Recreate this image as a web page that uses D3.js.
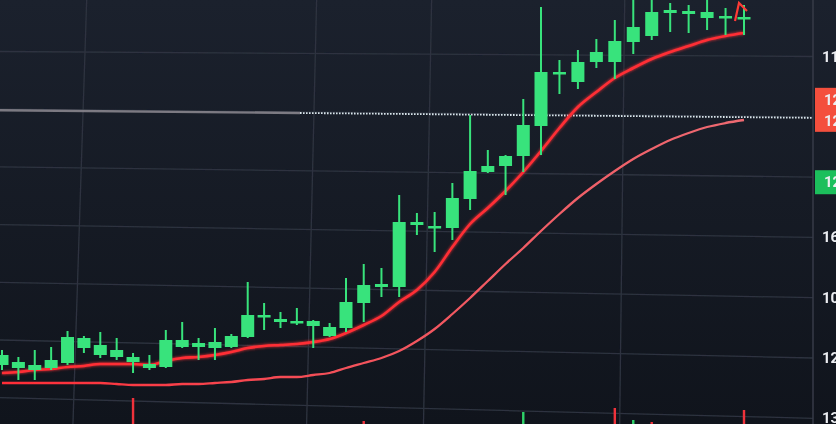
<!DOCTYPE html>
<html>
<head>
  <title>Candles</title>
  <script src="https://d3js.org/d3.v7.min.js"></script>
  <style>
    html, body {
      margin: 0;
      padding: 0;
      width: 100%;
      height: 100%;
      overflow: hidden;
      background: #151a24;
    }
    svg { display: block; }
    .lbl {
      font-family: Roboto, 'DejaVu Sans', sans-serif;
      font-weight: 700;
      font-size: 15px;
      fill: #eceef2;
    }
  </style>
</head>
<body>
  <svg></svg>
  <script>
    var width = 836, height = 424;
    var axisX = 813; // where the price scale starts

    // candles, oldest first
    const opens  = [105.9,105.6,105.4,105.6,106.1,107.6,106.9,106.7,106.2,105.6,105.7,107.7,107.7,107.6,107.7,108.7,110.7,110.2,110.1,109.8,108.8,109.6,112.1,113.7,113.7,119.9,119.6,119.6,122.5,125.2,125.8,126.8,129.8,135.0,134.2,136.2,136.2,138.2,138.8,141.1,141.0,140.6,140.6,140.5];
    const closes = [106.9,106.2,105.9,106.4,108.7,108.6,107.9,107.4,106.7,106.0,108.4,108.4,108.1,108.2,108.8,110.9,110.9,110.5,110.3,110.3,109.7,112.2,113.9,114.0,120.2,120.2,119.8,122.6,125.3,125.8,126.8,129.9,135.2,135.2,136.2,137.2,138.3,139.7,141.2,141.4,141.3,141.2,140.8,140.7];
    const highs  = [107.4,106.7,107.4,107.7,109.3,108.8,109.2,108.6,107.1,106.9,109.4,110.2,108.6,109.6,109.0,114.2,112.1,111.2,111.6,110.4,110.1,114.6,116.0,115.6,122.9,121.1,121.2,124.1,130.9,127.4,126.9,132.5,141.7,136.4,137.4,138.5,140.4,142.9,143.4,142.1,141.9,142.4,141.6,141.9];
    const lows   = [105.4,104.4,104.4,105.4,105.9,107.1,106.6,106.4,105.1,105.4,105.6,107.6,106.4,106.4,107.6,108.6,109.4,109.6,109.9,107.6,108.7,109.2,110.2,112.7,112.7,118.9,117.2,118.4,121.4,125.1,122.9,125.2,126.9,133.0,133.5,135.6,134.5,137.0,138.4,139.2,139.1,139.4,138.9,138.9];

    // moving averages
    const emaFast = [105.1,105.2,105.4,105.5,105.7,105.8,106.0,106.0,106.0,105.9,106.3,106.6,106.7,106.9,107.2,107.6,107.8,107.9,108.0,108.2,108.5,109.1,109.9,110.8,112.2,113.4,115.2,117.7,120.0,121.6,123.3,125.2,127.3,129.6,131.7,133.2,134.6,135.6,136.5,137.2,137.8,138.4,138.8,139.1];
    const emaSlow = [104.1,104.1,104.1,104.1,104.1,104.1,104.1,104.0,103.9,103.9,103.9,104.0,104.0,104.1,104.2,104.4,104.5,104.7,104.7,104.9,105.1,105.6,106.1,106.6,107.3,108.3,109.5,111.0,112.6,114.3,116.0,117.6,119.3,121.0,122.6,124.0,125.3,126.5,127.5,128.4,129.1,129.7,130.1,130.4];

    // volume (mostly below the visible area)
    const volumes = [10,6,8,12,14,9,7,11,42,8,13,10,6,9,12,15,8,7,6,11,9,14,19,10,15,8,9,12,13,7,9,28,15,10,9,8,32,20,18,9,7,8,10,30];
    const redVolume = [8,22,36,38,43];

    // price scale (labels 2 and 3 sit under the price tags)
    const gridPrices = [137.0,131.1,125.2,119.3,113.4,107.5,101.6];
    const tickLabels = ["11.760","","","16.020","10.870","12.340","13.110"];
    const lastPrice = 131.0;
    const lastLabels = ["12.905","12.880"];
    const bidPrice = 124.7;
    const bidLabel = "12.610";
    // time grid, in candle units
    const gridTimes = [4.75, 18.9, 25.6, 36.4];

    var svg = d3.select("svg").attr("width", width).attr("height", height);

    var defs = svg.append("defs");
    var bg = defs.append("linearGradient").attr("id", "bg").attr("x1", 0).attr("x2", 0).attr("y1", 0).attr("y2", 1);
    bg.append("stop").attr("offset", "0%").attr("stop-color", "#1b212d");
    bg.append("stop").attr("offset", "100%").attr("stop-color", "#10141c");

    // slow line goes from deep red on the left to pinkish on the right
    var slowGrad = defs.append("linearGradient").attr("id", "slowGrad")
      .attr("gradientUnits", "userSpaceOnUse").attr("x1", 0).attr("x2", 750).attr("y1", 0).attr("y2", 0);
    slowGrad.append("stop").attr("offset", "0%").attr("stop-color", "#ff2c36");
    slowGrad.append("stop").attr("offset", "45%").attr("stop-color", "#f4515a");
    slowGrad.append("stop").attr("offset", "100%").attr("stop-color", "#ee6a72");

    var soft = defs.append("filter").attr("id", "soft").attr("x", "-5%").attr("y", "-5%").attr("width", "110%").attr("height", "110%");
    soft.append("feGaussianBlur").attr("stdDeviation", 0.6);

    var glow = defs.append("filter").attr("id", "glow").attr("x", "-10%").attr("y", "-10%").attr("width", "120%").attr("height", "120%");
    glow.append("feGaussianBlur").attr("in", "SourceGraphic").attr("stdDeviation", 1.6).attr("result", "b");
    var merge = glow.append("feMerge");
    merge.append("feMergeNode").attr("in", "b");
    merge.append("feMergeNode").attr("in", "SourceGraphic");

    svg.append("rect").attr("width", width).attr("height", height).attr("fill", "url(#bg)");

    // the photo is a bit skewed, candle spacing grows to the right
    const x = d3.scaleLinear().domain([0, 21, 32, 43]).range([2, 346, 541, 744]);
    const y = d3.scaleLinear().domain([100, 142.4]).range([424, 0]);
    const yVol = d3.scaleLinear().domain([0, 100]).range([440, 340]);

    function tiltY(yy, xx) {
      var d = 2.5 + (yy - 54) * 0.022;
      return yy + d * ((xx - 406) / 406);
    }
    function tiltX(xx) { return 7.5 - xx * 0.008; }

    var chart = svg.append("g").attr("filter", "url(#soft)");

    // grid
    var grid = chart.append("g").attr("stroke", "#2d333f").attr("stroke-width", 1.3);
    grid.selectAll(".h").data(gridPrices).join("line")
      .attr("x1", 0).attr("x2", axisX)
      .attr("y1", d => tiltY(y(d), 0))
      .attr("y2", d => tiltY(y(d), axisX));
    grid.selectAll(".v").data(gridTimes).join("line")
      .attr("x1", d => x(d) + tiltX(x(d))).attr("y1", 0)
      .attr("x2", d => x(d) - tiltX(x(d))).attr("y2", height);

    // current price line
    var yp = y(lastPrice);
    chart.append("line")
      .attr("x1", 0).attr("x2", 300)
      .attr("y1", tiltY(yp, 0)).attr("y2", tiltY(yp, 300))
      .attr("stroke", "#8e8a92").attr("stroke-width", 2.4).attr("opacity", 0.85);
    chart.append("line")
      .attr("x1", 300).attr("x2", axisX)
      .attr("y1", tiltY(yp, 300)).attr("y2", tiltY(yp, axisX))
      .attr("stroke", "#d8e4ea").attr("stroke-width", 1.8)
      .attr("stroke-dasharray", "1.6,1.4");

    // volume bars
    chart.append("g").selectAll("rect").data(volumes).join("rect")
      .attr("x", (d, i) => x(i) - 1.2)
      .attr("width", 2.4)
      .attr("y", d => yVol(d))
      .attr("height", d => yVol(0) - yVol(d))
      .attr("fill", (d, i) => redVolume.includes(i) ? "#f0323a" : "#2fd36a");

    // moving averages
    var line = data => d3.line().x((d, i) => x(i)).y(d => y(d)).curve(d3.curveMonotoneX)(data);
    chart.append("path").attr("d", line(emaSlow))
      .attr("fill", "none").attr("stroke", "url(#slowGrad)").attr("stroke-width", 2.3);
    chart.append("path").attr("d", line(emaFast))
      .attr("fill", "none").attr("stroke", "#ff2f35").attr("stroke-width", 2.6)
      .attr("filter", "url(#glow)");

    // candles
    var idx = d3.range(opens.length);
    var candle = chart.append("g").attr("fill", "#38e37b").attr("stroke", "#38e37b");
    candle.selectAll(".wick").data(idx).join("line")
      .attr("x1", i => x(i)).attr("x2", i => x(i))
      .attr("y1", i => y(highs[i])).attr("y2", i => y(lows[i]))
      .attr("stroke-width", 2);
    candle.selectAll(".body").data(idx).join("rect")
      .attr("x", i => x(i) - 6.5)
      .attr("width", 13)
      .attr("y", i => y(Math.max(opens[i], closes[i])))
      .attr("height", i => Math.max(2.5, Math.abs(y(opens[i]) - y(closes[i]))))
      .attr("stroke", "none");

    // marker above the last candle
    var last = opens.length - 1;
    var mx = x(last) - 5, my = y(highs[last]) - 2;
    chart.append("path")
      .attr("d", `M${mx - 4},${my + 18} L${mx},${my} L${mx + 8},${my + 8}`)
      .attr("fill", "none").attr("stroke", "#ff3a36").attr("stroke-width", 2.2);

    // price scale
    var axis = svg.append("g").attr("filter", "url(#soft)");
    axis.append("line").attr("x1", axisX).attr("x2", axisX).attr("y1", 0).attr("y2", height)
      .attr("stroke", "#343b47").attr("stroke-width", 1.5);
    axis.selectAll("text.tick").data(gridPrices.filter((d, i) => tickLabels[i] !== "")).join("text")
      .attr("class", "lbl")
      .attr("x", 822)
      .attr("y", d => tiltY(y(d), axisX) + 5)
      .text(d => tickLabels[gridPrices.indexOf(d)]);

    var ypr = tiltY(yp, axisX);
    axis.append("rect").attr("x", axisX + 2).attr("y", ypr - 30).attr("width", 30).attr("height", 44)
      .attr("fill", "#f4503e");
    axis.selectAll("text.last").data(lastLabels).join("text")
      .attr("class", "lbl").attr("fill", "#ffffff")
      .attr("x", 824)
      .attr("y", (d, i) => ypr - 13 + i * 21)
      .text(d => d);

    var yb = tiltY(y(bidPrice), axisX);
    axis.append("rect").attr("x", axisX + 2).attr("y", yb - 12).attr("width", 30).attr("height", 24)
      .attr("fill", "#1fbf5b");
    axis.append("text").attr("class", "lbl").attr("x", 824).attr("y", yb + 5).text(bidLabel);
  </script>
</body>
</html>
